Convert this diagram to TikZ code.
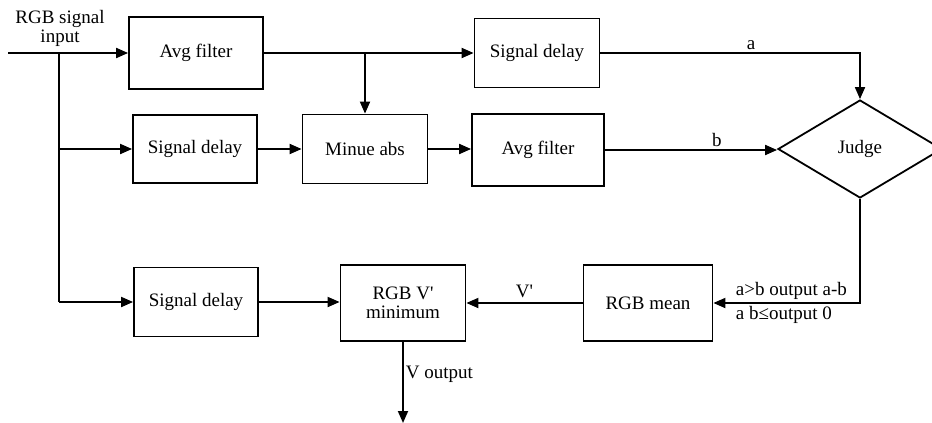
\documentclass[tikz,border=0pt]{standalone}
\usepackage{fontspec}
\setmainfont{Liberation Serif}
\usetikzlibrary{arrows.meta,shapes.geometric}
\begin{document}
\begin{tikzpicture}[x=1pt,y=-1pt,
  font=\fontsize{19}{22}\selectfont,
  line width=1.8pt,
  blk/.style={draw,rectangle,inner sep=0pt,align=center},
  arr/.style={-{Triangle[length=12pt,width=10pt]}},
  lbl/.style={inner sep=0pt}]
\useasboundingbox (0,0) rectangle (932,423);
\clip (0,0) rectangle (932,423);
% blocks
\node[blk,minimum width=134pt,minimum height=72pt] (avg1) at (196,53) {Avg filter};
\node[blk,minimum width=125pt,minimum height=69pt] (sd1) at (537,53) {Signal delay};
\node[blk,minimum width=124pt,minimum height=68pt] (sd2) at (195,149) {Signal delay};
\node[blk,minimum width=125pt,minimum height=69pt] (minue) at (365,149) {Minue abs};
\node[blk,minimum width=132pt,minimum height=72pt] (avg2) at (538,150) {Avg filter};
\node[draw,diamond,shape aspect=1.67,inner sep=0pt,minimum width=164pt,minimum height=98pt] (judge) at (860,149) {Judge};
\node[blk,minimum width=124pt,minimum height=69pt] (sd3) at (196,302) {Signal delay};
\node[blk,minimum width=125pt,minimum height=76pt] (vmin) at (403,303) {RGB V\textquotesingle\\[-3pt]minimum};
\node[blk,minimum width=129pt,minimum height=76pt] (mean) at (648,303) {RGB mean};
% coordinates
\coordinate (in) at (8,53);
\coordinate (j1) at (59,53);
\coordinate (j2) at (59,149);
\coordinate (j3) at (59,302);
\coordinate (j4) at (365,53);
\coordinate (out) at (403,423);
% labels
\node[lbl,align=center] (inlbl) at (60,28) {RGB signal\\[-3pt]input};
% connectors
\draw[arr] (in) -- (avg1.west |- in);
\draw (j1) -- (j3);
\draw[arr] (j2) -- (sd2.west |- j2);
\draw[arr] (j3) -- (sd3.west |- j3);
\draw[arr] (avg1.east) -- (sd1.west |- avg1.east);
\draw[arr] (j4) -- (minue.north);
\draw[arr] (sd1.east) -- (judge.north |- sd1.east) node[pos=0.58,above=2pt,lbl] (la) {a} -- (judge.north);
\draw[arr] (sd2.east) -- (minue.west |- sd2.east);
\draw[arr] (minue.east) -- (avg2.west |- minue.east);
\draw[arr] (avg2.east) -- (judge.west |- avg2.east) node[pos=0.65,above=2pt,lbl] (lb) {b};
\draw[arr] (judge.south) -- (judge.south |- mean.east) -- (mean.east);
\node[lbl,anchor=west] (lc1) at (735,291) {a>b output a-b};
\node[lbl,anchor=west] (lc2) at (735,315) {a b≤output 0};
\draw[arr] (mean.west) -- (vmin.east) node[midway,above=4pt,lbl] (lv) {V\textquotesingle};
\draw[arr] (sd3.east) -- (vmin.west |- sd3.east);
\draw[arr] (vmin.south) -- (out) node[pos=0.4,right=2pt,lbl] (lvo) {V output};
\end{tikzpicture}
\end{document}
